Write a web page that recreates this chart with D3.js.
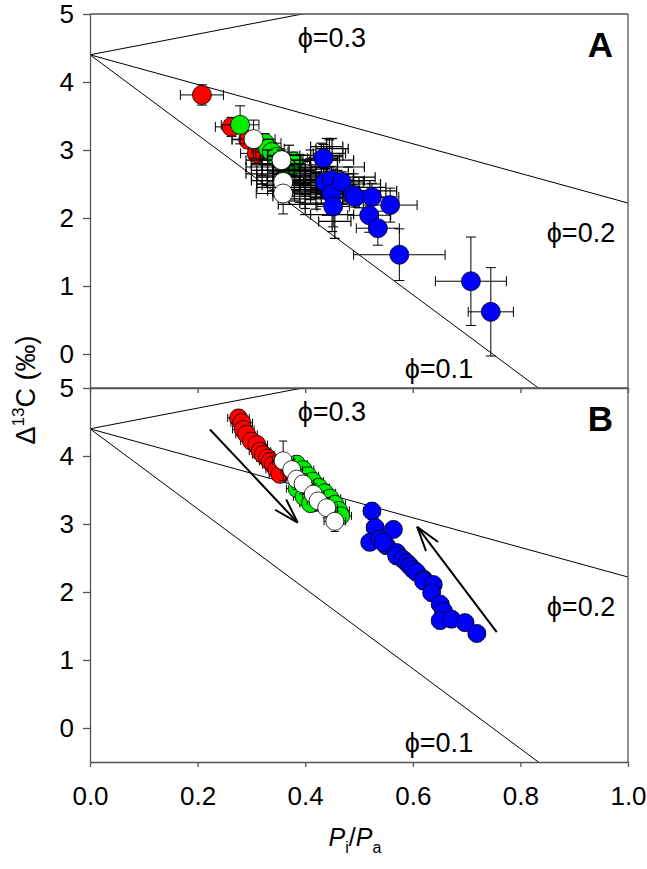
<!DOCTYPE html>
<html><head><meta charset="utf-8">
<script src="https://cdn.jsdelivr.net/npm/d3@7"></script>
<style>
body{margin:0;background:#fff;}
text{font-family:"Liberation Sans",Arial,Helvetica,sans-serif;fill:#000;}
</style>
</head><body>
<svg id="chart" width="647" height="869"></svg>
<script>
// ---------- data ----------
const xTicks = [0, 0.2, 0.4, 0.6, 0.8, 1.0];
const yTicks = [0, 1, 2, 3, 4, 5];
const phiValues = [0.1, 0.2, 0.3];
const phiIntercept = 4.4;          // Δ at Pi/Pa = 0
const phiSlopes = [-5.88, -2.18, 1.52];
const phiLabelsX = [0.585, 0.849, 0.386];
const phiLabelsY = [-0.36, 1.64, 4.52];
const panelNames = ["A", "B"];

// points: [Pi/Pa, Δ13C, xErr, yErr]
const redA = [[0.208,3.81,0.04,0.15],[0.263,3.34,0.03,0.14],[0.294,3.15,0.03,0.12],[0.31,2.95,0.03,0.12]];
const greenA = [[0.279,3.37,0.035,0.28],[0.325,3.10,0.03,0.14],[0.331,3.02,0.03,0.14],[0.338,2.97,0.03,0.14],
  [0.347,2.90,0.03,0.14],[0.36,2.80,0.03,0.12],[0.378,2.83,0.03,0.14],[0.37,2.72,0.03,0.12]];
const whiteA = [[0.304,3.16,0.04,0.28],[0.356,2.85,0.04,0.15],[0.359,2.53,0.03,0.2],[0.359,2.36,0.05,0.3]];
// points whose markers are hidden; only their error bars show: [Pi/Pa, Δ13C, xErr, yErr]
const clutterA = [[0.33,2.85,0.04,0.15],[0.35,2.80,0.05,0.15],[0.37,2.78,0.05,0.15],[0.39,2.75,0.05,0.18],
  [0.41,2.72,0.05,0.15],[0.34,2.70,0.04,0.15],[0.36,2.62,0.05,0.18],[0.38,2.55,0.05,0.15],[0.40,2.50,0.05,0.18],
  [0.42,2.60,0.05,0.15],[0.44,2.65,0.05,0.18],[0.43,2.45,0.05,0.15],[0.45,2.40,0.05,0.2],[0.47,2.35,0.05,0.15],
  [0.38,2.40,0.05,0.15],[0.40,2.32,0.06,0.18],[0.42,2.28,0.05,0.15],[0.44,2.22,0.05,0.18],[0.36,2.45,0.05,0.15],
  [0.32,2.75,0.03,0.12],[0.32,2.65,0.03,0.15],[0.445,2.95,0.03,0.2],[0.44,2.85,0.05,0.2],[0.46,2.75,0.05,0.15],
  [0.48,2.60,0.05,0.15],[0.50,2.45,0.05,0.15],[0.39,2.65,0.05,0.15],[0.41,2.85,0.05,0.15],[0.43,2.92,0.04,0.18],
  [0.37,2.92,0.04,0.15],[0.35,2.50,0.04,0.15],[0.34,2.55,0.04,0.15],[0.45,2.05,0.04,0.25],[0.455,1.95,0.03,0.25],
  [0.40,2.20,0.05,0.15],[0.46,2.55,0.05,0.15],[0.49,2.50,0.05,0.15],[0.52,2.40,0.05,0.15],[0.34,2.78,0.04,0.12],
  [0.36,2.70,0.05,0.12],[0.38,2.68,0.05,0.12],[0.40,2.62,0.05,0.12],[0.42,2.52,0.05,0.15],[0.44,2.45,0.05,0.15],
  [0.46,2.30,0.05,0.15],[0.48,2.40,0.06,0.15],[0.50,2.30,0.05,0.15],[0.43,2.35,0.05,0.15],[0.41,2.42,0.05,0.15],
  [0.35,2.60,0.04,0.15],[0.37,2.48,0.05,0.15],[0.39,2.38,0.05,0.15],[0.45,3.02,0.03,0.15],[0.44,3.05,0.03,0.12]];
const blueA = [[0.434,2.88,0.03,0.2],[0.437,2.53,0.04,0.2],[0.449,2.56,0.04,0.2],[0.449,2.36,0.03,0.2],
  [0.452,2.17,0.03,0.3],[0.468,2.53,0.04,0.15],[0.489,2.34,0.04,0.15],[0.493,2.31,0.04,0.15],[0.524,2.31,0.05,0.2],
  [0.558,2.19,0.05,0.25],[0.519,2.04,0.04,0.25],[0.535,1.85,0.04,0.25],[0.575,1.46,0.085,0.38],
  [0.708,1.07,0.066,0.65],[0.745,0.62,0.042,0.65]];

const redB = [[0.276,4.56,0.02,0.12],[0.282,4.49,0.02,0.12],[0.285,4.39,0.02,0.12],[0.291,4.32,0.02,0.12],
  [0.300,4.22,0.02,0.12],[0.310,4.17,0.02,0.12],[0.316,4.07,0.02,0.12],[0.322,4.02,0.02,0.12],[0.330,3.97,0.02,0.12],
  [0.335,3.92,0.02,0.12],[0.341,3.87,0.02,0.12],[0.347,3.80,0.02,0.12],[0.353,3.73,0.02,0.12]];
const greenB = [[0.384,3.88,0.02,0.12],[0.396,3.80,0.02,0.12],[0.405,3.71,0.02,0.12],[0.414,3.63,0.02,0.12],
  [0.425,3.54,0.02,0.12],[0.436,3.46,0.02,0.12],[0.446,3.38,0.02,0.12],[0.455,3.29,0.02,0.12],[0.462,3.20,0.02,0.12],
  [0.466,3.12,0.02,0.12],[0.385,3.52,0.02,0.12],[0.398,3.40,0.02,0.12],[0.410,3.30,0.02,0.12]];
const whiteB = [[0.359,3.93,0.02,0.29],[0.375,3.80,0.02,0.15],[0.384,3.66,0.02,0.15],[0.396,3.59,0.02,0.15],
  [0.415,3.44,0.02,0.15],[0.424,3.34,0.02,0.15],[0.440,3.24,0.02,0.15],[0.455,3.04,0.02,0.15]];
const blueB = [[0.524,3.19,0.015,0.12],[0.530,2.95,0.015,0.12],[0.520,2.73,0.015,0.12],[0.539,2.78,0.015,0.12],
  [0.551,2.68,0.015,0.12],[0.564,2.92,0.015,0.12],[0.545,2.73,0.015,0.12],[0.570,2.58,0.015,0.12],[0.570,2.53,0.015,0.12],
  [0.582,2.48,0.015,0.12],[0.589,2.43,0.015,0.12],[0.595,2.38,0.015,0.12],[0.601,2.33,0.015,0.12],[0.607,2.29,0.015,0.12],
  [0.620,2.19,0.015,0.12],[0.620,2.16,0.015,0.12],[0.638,2.11,0.015,0.12],[0.635,1.99,0.015,0.12],[0.651,1.82,0.015,0.12],
  [0.657,1.72,0.015,0.12],[0.651,1.58,0.015,0.12],[0.672,1.60,0.015,0.12],[0.697,1.55,0.015,0.12],[0.719,1.39,0.015,0.12]];
// arrows in panel B: [x1, y1, x2(tip), y2(tip)]
const arrowsB = [[0.223,4.39,0.386,3.02],[0.756,1.41,0.608,2.96]];

// ---------- layout ----------
const svg = d3.select("#chart");
const x = d3.scaleLinear().domain([0, 1]).range([90, 628]);
const yA = d3.scaleLinear().domain([-0.5, 5]).range([388, 14]);
const yB = d3.scaleLinear().domain([-0.5, 5]).range([762, 388]);
const axisColor = "#555";
const fs = 26;

const colors = {red:"#ff0000", green:"#00ee00", white:"#ffffff", blue:"#0000ff"};

function drawPanel(y, idx, layers, r, cap) {
  const g = svg.append("g");
  const [top, bottom] = [y.range()[1], y.range()[0]];
  const clipId = "clip" + idx;
  svg.append("clipPath").attr("id", clipId).append("rect")
    .attr("x", x(0)).attr("y", top).attr("width", x(1) - x(0)).attr("height", bottom - top);
  const plot = g.append("g").attr("clip-path", `url(#${clipId})`);

  // phi lines
  phiValues.forEach((p, i) => {
    plot.append("line")
      .attr("x1", x(0)).attr("y1", y(phiIntercept))
      .attr("x2", x(1)).attr("y2", y(phiIntercept + phiSlopes[i]))
      .attr("stroke", "#000").attr("stroke-width", 1);
  });

  // data layers
  layers.forEach(L => {
    const eg = plot.append("g").attr("stroke", "#000").attr("stroke-width", L.sw || 1).attr("fill", "none");
    L.data.forEach(d => {
      const cx = x(d[0]), cy = y(d[1]);
      const xe = d[2], ye = d[3];
      eg.append("line").attr("x1", x(d[0]-xe)).attr("x2", x(d[0]+xe)).attr("y1", cy).attr("y2", cy);
      eg.append("line").attr("x1", cx).attr("x2", cx).attr("y1", y(d[1]-ye)).attr("y2", y(d[1]+ye));
      [x(d[0]-xe), x(d[0]+xe)].forEach(px => eg.append("line").attr("x1", px).attr("x2", px).attr("y1", cy-cap).attr("y2", cy+cap));
      [y(d[1]-ye), y(d[1]+ye)].forEach(py => eg.append("line").attr("x1", cx-cap).attr("x2", cx+cap).attr("y1", py).attr("y2", py));
    });
    if (L.color) {
      plot.append("g").selectAll("circle").data(L.data).join("circle")
        .attr("cx", d => x(d[0])).attr("cy", d => y(d[1])).attr("r", r)
        .attr("fill", colors[L.color]).attr("stroke", "#000").attr("stroke-width", 0.8);
    }
  });

  // phi labels
  phiValues.forEach((p, i) => {
    g.append("text").attr("x", x(phiLabelsX[i])).attr("y", y(phiLabelsY[i]))
      .attr("font-size", 27).text("ϕ=" + p.toFixed(1));
  });

  // frame: top + right
  g.append("line").attr("x1", x(0)).attr("x2", x(1)).attr("y1", top).attr("y2", top).attr("stroke", axisColor).attr("stroke-width", 1.3);
  g.append("line").attr("x1", x(1)).attr("x2", x(1)).attr("y1", top).attr("y2", bottom).attr("stroke", axisColor).attr("stroke-width", 1.3);

  // y axis
  const ya = g.append("g").attr("transform", `translate(${x(0)},0)`)
    .call(d3.axisLeft(y).tickValues(yTicks).tickSize(7).tickSizeOuter(0).tickPadding(9).tickFormat(d3.format("d")));
  // x axis
  const xa = g.append("g").attr("transform", `translate(0,${bottom})`)
    .call(d3.axisBottom(x).tickValues(xTicks).tickSize(5).tickSizeOuter(0).tickPadding(20)
      .tickFormat(idx === 1 ? d3.format(".1f") : () => ""));
  [ya, xa].forEach(a => {
    a.select(".domain").attr("stroke", axisColor).attr("stroke-width", 1.3);
    a.selectAll(".tick line").attr("stroke", axisColor).attr("stroke-width", 1.3);
    a.selectAll(".tick text").attr("font-size", fs).attr("font-family", '"Liberation Sans",Arial,sans-serif').attr("fill", "#000");
  });

  // panel letter
  g.append("text").attr("x", 613).attr("y", top + 43).attr("text-anchor", "end")
    .attr("font-size", 35).attr("font-weight", "bold").text(panelNames[idx]);
  return plot;
}

drawPanel(yA, 0, [
  {data: redA, color: "red"}, {data: greenA, color: "green"},
  {data: clutterA, color: null, sw: 1.2}, {data: whiteA, color: "white"}, {data: blueA, color: "blue"}
], 9.5, 5);

const plotB = drawPanel(yB, 1, [
  {data: redB, color: "red"}, {data: greenB, color: "green"}, {data: whiteB, color: "white"}, {data: blueB, color: "blue"}
], 9, 4);

// arrows
arrowsB.forEach(a => {
  const x1 = x(a[0]), y1 = yB(a[1]), x2 = x(a[2]), y2 = yB(a[3]);
  const ang = Math.atan2(y1 - y2, x1 - x2);
  const len = 26, spread = 17 * Math.PI / 180;
  plotB.append("line").attr("x1", x1).attr("y1", y1).attr("x2", x2).attr("y2", y2).attr("stroke", "#000").attr("stroke-width", 2);
  [ang - spread, ang + spread].forEach(t => {
    plotB.append("line").attr("x1", x2).attr("y1", y2)
      .attr("x2", x2 + len * Math.cos(t)).attr("y2", y2 + len * Math.sin(t))
      .attr("stroke", "#000").attr("stroke-width", 2);
  });
});

// axis titles
const yl = svg.append("text").attr("transform", "translate(35,390) rotate(-90)")
  .attr("text-anchor", "middle").attr("font-size", 27);
yl.append("tspan").text("Δ");
yl.append("tspan").attr("font-size", 17).attr("dy", -11).text("13");
yl.append("tspan").attr("dy", 11).text("C (‰)");

const xl = svg.append("text").attr("x", 355).attr("y", 846).attr("text-anchor", "middle").attr("font-size", 25);
xl.append("tspan").attr("font-style", "italic").text("P");
xl.append("tspan").attr("font-size", 16).attr("dy", 7).text("i");
xl.append("tspan").attr("dy", -7).text("/");
xl.append("tspan").attr("font-style", "italic").text("P");
xl.append("tspan").attr("font-size", 16).attr("dy", 7).text("a");
</script>
</body></html>
